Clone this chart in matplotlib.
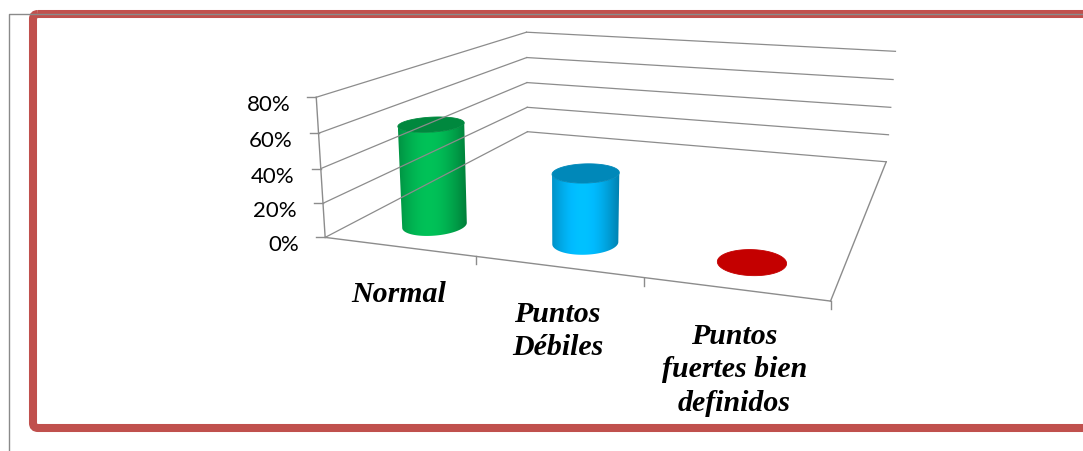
import numpy as np
import matplotlib
matplotlib.use('Agg')
import matplotlib.pyplot as plt
from matplotlib.patches import Polygon, FancyBboxPatch

# data
categories = ['Normal', 'Puntos\nDébiles', 'Puntos\nfuertes bien\ndefinidos']
values = [0.60, 0.40, 0.0]
colors = ['#00B050', '#00B0F0', '#FF0000']
ticks = [0.0, 0.2, 0.4, 0.6, 0.8]
tick_labels = ['0%', '20%', '40%', '60%', '80%']

ZMAX = 0.8
DEPTH = 0.145    # depth of the cylinder row on the floor (0 front, 1 back)
RU, RV = 0.064, 0.072
GRID = '#8c8c8c'

# camera calibration: (u, v, value) of the chart box -> pixel position
CALIB = [
    ((0, 0, 0.0), (325, 238)), ((0, 0, 0.2), (323, 203)), ((0, 0, 0.4), (321, 170)),
    ((0, 0, 0.6), (318, 134)), ((0, 0, 0.8), (316, 99)),
    ((0, 1, 0.0), (527, 133)), ((0, 1, 0.2), (527, 109)), ((0, 1, 0.4), (527, 84)),
    ((0, 1, 0.6), (527, 58)), ((0, 1, 0.8), (527, 33)),
    ((1, 1, 0.0), (886, 162)), ((1, 1, 0.2), (889, 136)), ((1, 1, 0.4), (891, 108)),
    ((1, 1, 0.6), (893, 81)), ((1, 1, 0.8), (895, 52)),
    ((1, 0, 0.0), (830, 303)), ((1 / 3, 0, 0.0), (477, 257)), ((2 / 3, 0, 0.0), (644, 279)),
]


def fit_camera(calib):
    world = np.array([c[0] for c in calib], float)
    img = np.array([c[1] for c in calib], float)
    mu, s = img.mean(axis=0), 500.0
    imgn = (img - mu) / s
    A = []
    for (X, Y, Z), (x, y) in zip(world, imgn):
        A.append([X, Y, Z, 1, 0, 0, 0, 0, -x * X, -x * Y, -x * Z, -x])
        A.append([0, 0, 0, 0, X, Y, Z, 1, -y * X, -y * Y, -y * Z, -y])
    _, _, vt = np.linalg.svd(np.array(A))
    P = vt[-1].reshape(3, 4)
    T = np.array([[s, 0, mu[0]], [0, s, mu[1]], [0, 0, 1]])
    return T @ P


CAM = fit_camera(CALIB)
_, _, _vt = np.linalg.svd(CAM)
EYE = _vt[-1][:3] / _vt[-1][3]   # camera centre in chart coordinates


def proj(u, v, z):
    u, v, z = np.broadcast_arrays(np.asarray(u, float), np.asarray(v, float), np.asarray(z, float))
    h = CAM @ np.vstack([u.ravel(), v.ravel(), z.ravel(), np.ones(u.size)])
    return h[0] / h[2], h[1] / h[2]


def line3d(ax, a, b, **kw):
    x, y = proj([a[0], b[0]], [a[1], b[1]], [a[2], b[2]])
    ax.plot(x, y, **kw)


def shade(c, f):
    rgb = np.array(matplotlib.colors.to_rgb(c)) * np.asarray(f)[..., None]
    return np.clip(rgb, 0, 1)


fig = plt.figure(figsize=(10.83, 4.52), dpi=100)
ax = fig.add_axes([0, 0, 1, 1])

# outer frame
ax.add_patch(FancyBboxPatch((33, 15), 1100, 414, boxstyle='round,pad=0,rounding_size=5',
                            fill=False, ec='#C0504D', lw=5.8))
ax.plot([8.5, 8.5, 1083], [452, 14.5, 14.5], color='#8a8a8a', lw=1.0)

# walls
for t in ticks:
    line3d(ax, (0, 0, t), (0, 1, t), color=GRID, lw=0.9)
    line3d(ax, (0, 1, t), (1, 1, t), color=GRID, lw=0.9)
# floor
line3d(ax, (0, 0, 0), (1, 0, 0), color=GRID, lw=1.0)
line3d(ax, (1, 0, 0), (1, 1, 0), color=GRID, lw=1.0)

# value axis
line3d(ax, (0, 0, 0), (0, 0, ZMAX), color=GRID, lw=1.0)
for t, lab in zip(ticks, tick_labels):
    x, y = proj(0, 0, t)
    ax.plot([x[0] - 9, x[0]], [y[0], y[0]], color=GRID, lw=1.0)
    ax.text(x[0] - 26, y[0] + 7, lab, ha='right', va='center', fontsize=16,
            family='Lato', color='#000000')

# category ticks and labels
n = len(categories)
for k in range(1, n + 1):
    x, y = proj(k / n, 0, 0)
    ax.plot([x[0], x[0]], [y[0], y[0] + 8], color=GRID, lw=1.0)
for i, lab in enumerate(categories):
    x, y = proj((i + 0.5) / n, 0, 0)
    ax.text(x[0], y[0] + 33, lab, ha='center', va='top', fontsize=21.5,
            family='Liberation Serif', weight='bold', style='italic',
            multialignment='center', linespacing=1.3)

# cylinders
theta = np.linspace(np.pi / 2, 5 * np.pi / 2, 241)   # front of the base sits in the middle
s_grad = np.linspace(0, 1, 256)
f_grad = 0.72 + 0.38 * np.clip(np.cos((s_grad - 0.45) / 0.55 * np.pi / 2), 0, None)
for i, (val, col) in enumerate(zip(values, colors)):
    uc = (i + 0.5) / n
    cu = uc + RU * np.cos(theta)
    cv = DEPTH + RV * np.sin(theta)
    bx, by = proj(cu, cv, 0)
    tx, ty = proj(cu, cv, val)
    if val > 0:
        # side of the cylinder that faces the camera
        facing = (np.cos(theta) / RU) * (EYE[0] - cu) + (np.sin(theta) / RV) * (EYE[1] - cv) > 0
        idx = np.where(facing)[0]
        outline = np.vstack([np.column_stack([bx[idx], by[idx]]),
                             np.column_stack([tx[idx][::-1], ty[idx][::-1]])])
        body = Polygon(outline, closed=True, fc='none', ec='none')
        ax.add_patch(body)
        x0, x1 = outline[:, 0].min(), outline[:, 0].max()
        y0, y1 = outline[:, 1].min(), outline[:, 1].max()
        img = shade(col, f_grad)[None, :, :]
        im = ax.imshow(img, extent=(x0, x1, y1, y0), aspect='auto', interpolation='bilinear')
        im.set_clip_path(body)
    top = shade(col, 0.77)
    ax.add_patch(Polygon(np.column_stack([tx, ty]), closed=True, fc=top, ec=top, lw=0.6))

ax.set_xlim(0, 1083)
ax.set_ylim(452, 0)
ax.set_aspect('auto')
ax.axis('off')

fig.savefig('out.png', dpi=100)
